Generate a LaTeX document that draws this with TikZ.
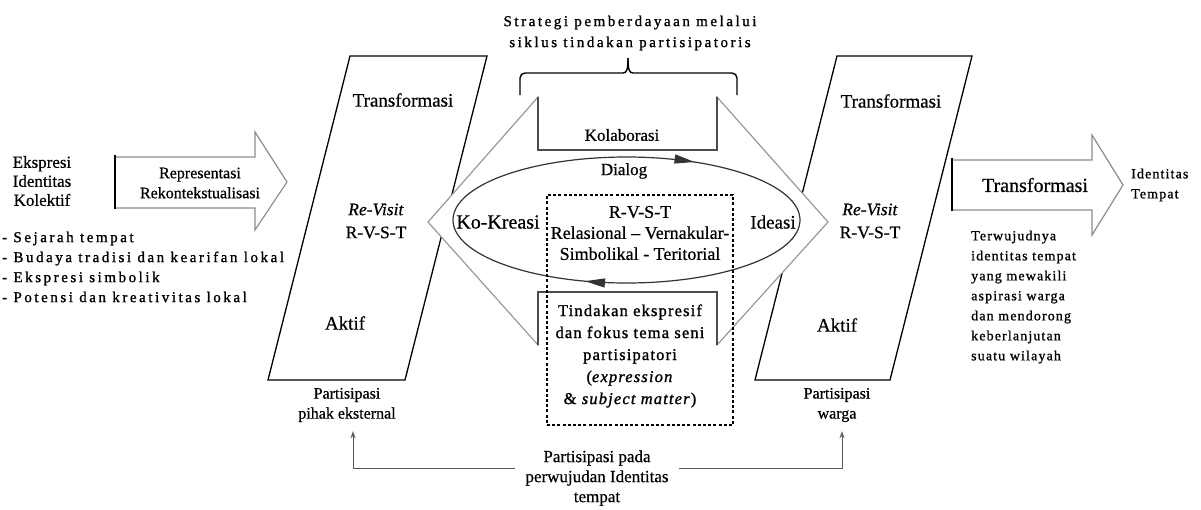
\documentclass[tikz,border=0pt]{standalone}
\usepackage{fontspec}
\setmainfont{Liberation Serif}[FakeBold=0.6]
\newfontfamily\spaced{Liberation Serif}[LetterSpace=17, FakeBold=1.2]
\newfontfamily\spacedbig{Liberation Serif}[LetterSpace=7, FakeBold=1.2]
\newfontfamily\spacedlight{Liberation Serif}[LetterSpace=8, FakeBold=1.0]
\usetikzlibrary{arrows.meta,decorations.markings}
\newcommand\setfs[2]{\fontsize{#1}{#2}\selectfont}

\begin{document}
\begin{tikzpicture}[x=1pt,y=-1pt,
  frame/.style={line width=1.3pt, line join=miter},
  blockarrow/.style={draw=black!45, line width=1.2pt, fill=white, line join=miter},
  bigarrow/.style={draw=black!40, line width=1.2pt, fill=white, line join=miter},
  notch/.style={draw=black!70, line width=1.2pt},
  lbl/.style={inner sep=0pt, align=center},
  lleft/.style={inner sep=0pt, align=left},
  link/.style={draw=black!65, line width=1pt, -{Stealth[length=7pt,width=5pt]}},
  cycleline/.style={draw=black!80, line width=1.2pt, postaction=decorate,
    decoration={markings,
      mark=at position 0.303 with {\arrow{Triangle[length=20pt,width=9pt]}},
      mark=at position 0.837 with {\arrow{Triangle[length=20pt,width=9pt]}}}},
  dashbox/.style={draw, line width=1.3pt, dash pattern=on 3pt off 2.2pt, inner sep=0pt}
]
\useasboundingbox (0,0) rectangle (1201,509);

% --- left side: collective identity and the representation arrow
\node[lbl, font=\setfs{17}{19}] (ekspresi) at (42,181) {Ekspresi\\Identitas\\Kolektif};
\filldraw[blockarrow] (115,157) -- (255,157) -- (255,132) -- (287,182) -- (255,230) -- (255,208) -- (115,208) -- cycle;
\draw[line width=1.3pt] (115,155) -- (115,209);
\node[lbl, font=\setfs{16}{20}] (repr) at (200,183) {Representasi\\Rekontekstualisasi};
\node[lleft, anchor=west, font=\spaced\setfs{15}{20}] (sumber) at (2,267)
  {- Sejarah tempat\\- Budaya tradisi dan kearifan lokal\\- Ekspresi simbolik\\- Potensi dan kreativitas lokal};

% --- the two participation frames
\draw[frame] (350,56) -- (487,56) -- (405,380) -- (268,380) -- cycle;
\draw[frame] (837,56) -- (972,56) -- (890,380) -- (755,380) -- cycle;

% --- double arrow of the participatory action cycle
\filldraw[bigarrow] (428,222) -- (538,97) -- (538,150) -- (717,150) -- (717,97) -- (828,222)
  -- (717,345) -- (717,292) -- (538,292) -- (538,345) -- cycle;
\draw[notch] (538,97) |- (717,150) -- (717,97);
\draw[notch] (538,345) |- (717,292) -- (717,345);

% --- brace and strategy caption
\draw[line width=1.4pt, rounded corners=5pt] (520,95) |- (623,73);
\draw[line width=1.4pt] (623,73) .. controls (627,73) and (628,69) .. (628,58);
\draw[line width=1.4pt] (628,58) .. controls (628,69) and (629,73) .. (633,73);
\draw[line width=1.4pt, rounded corners=5pt] (633,73) -| (737,95);
\node[lbl, font=\spaced\setfs{15}{21}] (strategi) at (630,33)
  {Strategi pemberdayaan melalui\\siklus tindakan partisipatoris};

% --- dialogue cycle
\draw[cycleline] (626.5,220) ellipse [x radius=173.5, y radius=63];
\node[dashbox, minimum width=186pt, minimum height=230pt] (rvstbox) at (640,310) {};

\node[lbl, font=\setfs{17}{21}] (kolab) at (622,135) {Kolaborasi};
\node[lbl, font=\setfs{17}{21}] (dialog) at (624,171) {Dialog};
\node[lbl, font=\setfs{20}{21}] (kokreasi) at (498,222) {Ko-Kreasi};
\node[lbl, font=\setfs{19}{21}] (ideasi) at (773,222) {Ideasi};
\node[lbl, font=\setfs{18}{21}] (rvst) at (640,233)
  {R-V-S-T\\Relasional – Vernakular-\\Simbolikal - Teritorial};
\node[lbl, font=\spacedbig\setfs{16.5}{22}] (tindakan) at (630,356)
  {Tindakan ekspresif\\dan fokus tema seni\\partisipatori\\(\textit{expression}\\\& \textit{subject matter})};

% --- frame labels
\node[lbl, font=\setfs{19}{22}] (transL) at (403,100) {Transformasi};
\node[lbl, font=\setfs{17.5}{23}] (revisitL) at (376,221) {\textit{Re-Visit}\\R-V-S-T};
\node[lbl, font=\setfs{19}{22}] (aktifL) at (345,323) {Aktif};
\node[lbl, font=\setfs{19}{22}] (transR) at (891,101) {Transformasi};
\node[lbl, font=\setfs{17.5}{23}] (revisitR) at (870,221) {\textit{Re-Visit}\\R-V-S-T};
\node[lbl, font=\setfs{19}{22}] (aktifR) at (837,325) {Aktif};

\node[lbl, font=\setfs{16}{20}] (pext) at (347,405) {Partisipasi\\pihak eksternal};
\node[lbl, font=\setfs{16}{20}] (pwarga) at (837,405) {Partisipasi\\warga};
\node[lbl, font=\setfs{17}{20}] (pwujud) at (597,478) {Partisipasi pada\\perwujudan Identitas\\tempat};

\draw[link] ([shift={(-10pt,10pt)}]pwujud.west) -| ([xshift=6pt,yshift=-9pt]pext.south);
\draw[link] ([shift={(10pt,10pt)}]pwujud.east) -| ([xshift=5pt,yshift=-9pt]pwarga.south);

% --- right side: transformation towards place identity
\filldraw[blockarrow] (952,160) -- (1092,160) -- (1092,135) -- (1123,185) -- (1092,235) -- (1092,210) -- (952,210) -- cycle;
\draw[line width=1.3pt] (952,158) -- (952,211);
\node[lbl, font=\setfs{20}{22}] (transArrow) at (1035,185) {Transformasi};
\node[lleft, anchor=west, font=\spacedlight\setfs{14}{20}] (identitas) at (1131,185) {Identitas\\Tempat};
\node[lleft, anchor=west, font=\spacedlight\setfs{14}{20}] (hasil) at (971,297)
  {Terwujudnya\\identitas tempat\\yang mewakili\\aspirasi warga\\dan mendorong\\keberlanjutan\\suatu wilayah};
\end{tikzpicture}
\end{document}
